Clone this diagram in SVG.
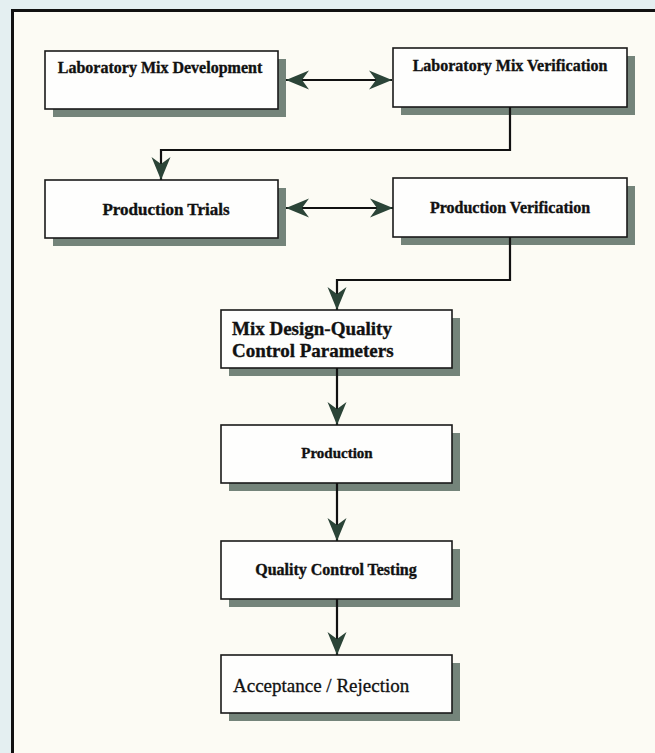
<svg xmlns="http://www.w3.org/2000/svg" width="655" height="753" viewBox="0 0 655 753">
  <style>
    .box { fill: #fefefd; stroke: #1a1a1a; stroke-width: 1.6; }
    .shadow { fill: #74847a; }
    .lbl { font-family: "Liberation Serif", "Times New Roman", serif; font-weight: bold; fill: #111; stroke: #111; stroke-width: 0.35; }
    .reg { font-family: "Liberation Serif", "Times New Roman", serif; font-weight: normal; fill: #111; stroke: #111; stroke-width: 0.3; }
    .conn { fill: none; stroke: #111; stroke-width: 2.2; }
  </style>
  <defs>
    <marker id="ah" viewBox="-25 -11 27 22" refX="0" refY="0" markerWidth="27" markerHeight="22" markerUnits="userSpaceOnUse" orient="auto-start-reverse">
      <path d="M0,0 L-23,-9.5 L-16,0 L-23,9.5 Z" fill="#2b4437"/>
    </marker>
  </defs>
  <rect x="0" y="0" width="655" height="753" fill="#e4eff1"/>
  <rect x="12" y="10" width="643" height="743" fill="#fcfbf4"/>
  <line x1="11" y1="10.5" x2="655" y2="10.5" stroke="#111" stroke-width="3"/>
  <line x1="12.5" y1="9" x2="12.5" y2="753" stroke="#111" stroke-width="3"/>

  <g id="n1">
    <rect class="shadow" x="53" y="59" width="233" height="58"/>
    <rect class="box" x="45" y="51" width="233" height="58"/>
    <text class="lbl" x="160" y="73" font-size="16" text-anchor="middle">Laboratory Mix Development</text>
  </g>
  <g id="n2">
    <rect class="shadow" x="401" y="56" width="234" height="59"/>
    <rect class="box" x="393" y="48" width="234" height="59"/>
    <text class="lbl" x="510" y="71" font-size="16" text-anchor="middle">Laboratory Mix Verification</text>
  </g>
  <g id="n3">
    <rect class="shadow" x="53" y="188" width="233" height="58"/>
    <rect class="box" x="45" y="180" width="233" height="58"/>
    <text class="lbl" x="166" y="215" font-size="17" text-anchor="middle">Production Trials</text>
  </g>
  <g id="n4">
    <rect class="shadow" x="401" y="186" width="234" height="59"/>
    <rect class="box" x="393" y="178" width="234" height="59"/>
    <text class="lbl" x="510" y="213" font-size="16" text-anchor="middle">Production Verification</text>
  </g>
  <g id="n5">
    <rect class="shadow" x="229" y="318" width="231" height="58"/>
    <rect class="box" x="221" y="310" width="231" height="58"/>
    <text class="lbl" x="232" y="335" font-size="19">Mix Design-Quality</text>
    <text class="lbl" x="232" y="357" font-size="19">Control Parameters</text>
  </g>
  <g id="n6">
    <rect class="shadow" x="229" y="433" width="231" height="58"/>
    <rect class="box" x="221" y="425" width="231" height="58"/>
    <text class="lbl" x="337" y="458" font-size="15" text-anchor="middle">Production</text>
  </g>
  <g id="n7">
    <rect class="shadow" x="229" y="549" width="231" height="58"/>
    <rect class="box" x="221" y="541" width="231" height="58"/>
    <text class="lbl" x="336" y="575" font-size="16" text-anchor="middle">Quality Control Testing</text>
  </g>
  <g id="n8">
    <rect class="shadow" x="229" y="663" width="231" height="58"/>
    <rect class="box" x="221" y="655" width="231" height="58"/>
    <text class="reg" x="233" y="692" font-size="19">Acceptance / Rejection</text>
  </g>

  <g id="connectors">
    <path class="conn" d="M286,80 H392" marker-start="url(#ah)" marker-end="url(#ah)"/>
    <path class="conn" d="M510,107 V150 H161 V180" marker-end="url(#ah)"/>
    <path class="conn" d="M286,208 H393" marker-start="url(#ah)" marker-end="url(#ah)"/>
    <path class="conn" d="M510,237 V280 H337 V310" marker-end="url(#ah)"/>
    <path class="conn" d="M337,368 V425" marker-end="url(#ah)"/>
    <path class="conn" d="M337,483 V541" marker-end="url(#ah)"/>
    <path class="conn" d="M337,599 V655" marker-end="url(#ah)"/>
  </g>
</svg>
